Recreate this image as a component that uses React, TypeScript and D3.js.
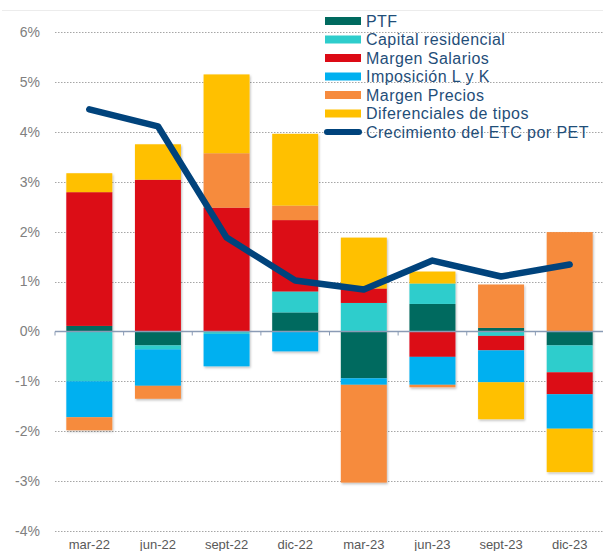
import React, { useEffect, useRef } from 'react';
import * as d3 from 'd3';

const categories = ['mar-22', 'jun-22', 'sept-22', 'dic-22', 'mar-23', 'jun-23', 'sept-23', 'dic-23'];
const ptf = [0.11, -0.28, 0, 0.38, -0.94, 0.55, 0.07, -0.28];
const capitalResidencial = [-1.0, -0.08, -0.05, 0.42, 0.57, 0.41, -0.09, -0.54];
const margenSalarios = [2.68, 3.04, 2.48, 1.43, 0.29, -0.51, -0.29, -0.44];
const imposicion = [-0.72, -0.73, -0.65, -0.4, -0.13, -0.56, -0.64, -0.69];
const margenPrecios = [-0.26, -0.26, 1.09, 0.29, -1.96, -0.05, 0.87, 1.99];
const diferenciales = [0.38, 0.71, 1.58, 1.44, 1.02, 0.24, -0.74, -0.87];
const crecimientoEtc = [4.45, 4.11, 1.88, 1.02, 0.84, 1.42, 1.1, 1.34];
const yTicks = [6, 5, 4, 3, 2, 1, 0, -1, -2, -3, -4];

const seriesNames = ['PTF', 'Capital residencial', 'Margen Salarios', 'Imposición L y K', 'Margen Precios', 'Diferenciales de tipos'];
const seriesValues = [ptf, capitalResidencial, margenSalarios, imposicion, margenPrecios, diferenciales];
const seriesColors = ['#006a5f', '#2ecdcc', '#dc0a15', '#00b0f0', '#f68b3e', '#ffc000'];
const lineName = 'Crecimiento del ETC por PET';
const lineColor = '#00437c';

const App = () => {
    const svgRef = useRef<SVGSVGElement>(null);

    useEffect(() => {
        const width = 603;
        const height = 551;
        const plotLeft = 55;
        const plotRight = 604;

        const svg = d3.select(svgRef.current);
        svg.selectAll('*').remove();
        svg.attr('width', width).attr('height', height);

        //table for the stack
        const table = categories.map((c, i) => {
            const row: any = { cat: c };
            seriesNames.forEach((n, k) => { row[n] = seriesValues[k][i]; });
            return row;
        });

        const x = d3.scaleBand()
            .domain(categories)
            .range([plotLeft, plotRight])
            .paddingInner(0.33)
            .paddingOuter(0.165);

        const y = d3.scaleLinear()
            .domain([-4, 6])
            .range([531, 32]);

        //soft shadow under the bars
        const defs = svg.append('defs');
        const filter = defs.append('filter').attr('id', 'shadow')
            .attr('x', '-10%').attr('y', '-10%').attr('width', '130%').attr('height', '130%');
        filter.append('feDropShadow')
            .attr('dx', 1).attr('dy', 1.5).attr('stdDeviation', 1.2)
            .attr('flood-color', '#000').attr('flood-opacity', 0.25);

        //faint frame line at the top
        svg.append('line')
            .attr('x1', 2).attr('x2', width)
            .attr('y1', 10.5).attr('y2', 10.5)
            .attr('stroke', '#ececec').attr('stroke-width', 1);

        //gridlines
        svg.append('g')
            .selectAll('line')
            .data(yTicks.filter(t => t !== 0))
            .enter().append('line')
            .attr('x1', plotLeft).attr('x2', width)
            .attr('y1', d => Math.round(y(d)) + 0.5)
            .attr('y2', d => Math.round(y(d)) + 0.5)
            .attr('stroke', '#a6a6a6')
            .attr('stroke-width', 1)
            .attr('stroke-dasharray', '1.5,1.5');

        //y labels
        svg.append('g')
            .selectAll('text')
            .data(yTicks)
            .enter().append('text')
            .attr('x', 40)
            .attr('y', d => y(d))
            .attr('dy', '0.35em')
            .attr('text-anchor', 'end')
            .attr('font-family', 'Liberation Sans, Arial, sans-serif')
            .attr('font-size', '14px')
            .attr('fill', '#808080')
            .text(d => `${d}%`);

        //stacked bars
        const stack = d3.stack<any>()
            .keys(seriesNames)
            .offset(d3.stackOffsetDiverging);
        const stacked = stack(table);

        const barsG = svg.append('g').attr('filter', 'url(#shadow)');
        stacked.forEach((layer, k) => {
            barsG.append('g')
                .attr('fill', seriesColors[k])
                .selectAll('rect')
                .data(layer)
                .enter().append('rect')
                .attr('x', d => x(d.data.cat) as number)
                .attr('width', x.bandwidth())
                .attr('y', d => y(Math.max(d[0], d[1])))
                .attr('height', d => Math.abs(y(d[0]) - y(d[1])));
        });

        //zero axis with ticks at band edges
        const y0 = Math.round(y(0)) + 0.5;
        svg.append('line')
            .attr('x1', plotLeft).attr('x2', width)
            .attr('y1', y0).attr('y2', y0)
            .attr('stroke', '#8a9bb5').attr('stroke-width', 1.5);
        svg.append('g')
            .selectAll('line')
            .data(categories)
            .enter().append('line')
            .attr('x1', d => (x(d) as number) - x.step() * x.paddingInner() / 2)
            .attr('x2', d => (x(d) as number) - x.step() * x.paddingInner() / 2)
            .attr('y1', y0).attr('y2', y0 + 4)
            .attr('stroke', '#8a9bb5').attr('stroke-width', 1);

        //line series
        const line = d3.line<number>()
            .x((d, i) => (x(categories[i]) as number) + x.bandwidth() / 2)
            .y(d => y(d));

        svg.append('path')
            .datum(crecimientoEtc)
            .attr('fill', 'none')
            .attr('stroke', lineColor)
            .attr('stroke-width', 6.5)
            .attr('stroke-linecap', 'round')
            .attr('stroke-linejoin', 'round')
            .attr('d', line);

        //x labels
        svg.append('g')
            .selectAll('text')
            .data(categories)
            .enter().append('text')
            .attr('x', d => (x(d) as number) + x.bandwidth() / 2)
            .attr('y', 549)
            .attr('text-anchor', 'middle')
            .attr('font-family', 'Liberation Sans, Arial, sans-serif')
            .attr('font-size', '13px')
            .attr('fill', '#595959')
            .text(d => d);

        //legend
        const legend = svg.append('g').attr('transform', 'translate(325,21)');
        const rowH = 18.5;
        seriesNames.forEach((n, k) => {
            legend.append('rect')
                .attr('x', 0).attr('y', k * rowH - 4)
                .attr('width', 36).attr('height', 8)
                .attr('fill', seriesColors[k]);
        });
        legend.append('line')
            .attr('x1', 2).attr('x2', 34)
            .attr('y1', 6 * rowH).attr('y2', 6 * rowH)
            .attr('stroke', lineColor)
            .attr('stroke-width', 6)
            .attr('stroke-linecap', 'round');
        legend.selectAll('text')
            .data([...seriesNames, lineName])
            .enter().append('text')
            .attr('x', 41)
            .attr('y', (d, k) => k * rowH)
            .attr('dy', '0.36em')
            .attr('font-family', 'Liberation Sans, Arial, sans-serif')
            .attr('font-size', '16px')
            .attr('letter-spacing', '0.45px')
            .attr('fill', '#1f4e79')
            .text(d => d);
    }, []);

    return (
        <div style={{ position: 'absolute', left: 0, top: 0, width: 603, height: 551, background: '#fff' }}>
            <svg ref={svgRef} style={{ display: 'block' }}></svg>
        </div>
    );
};

export default App;
